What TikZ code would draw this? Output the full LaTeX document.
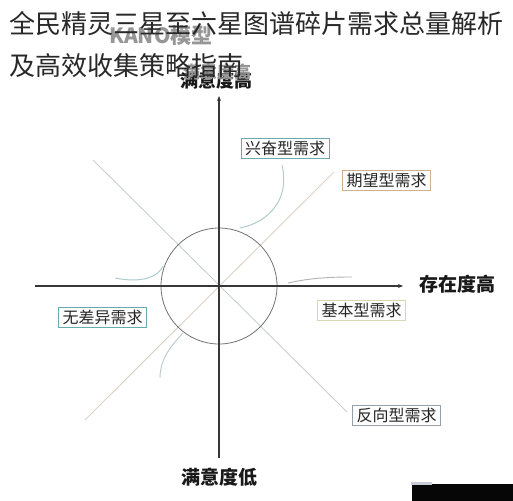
\documentclass[tikz,border=0pt]{standalone}
\usepackage{fontspec}
\newfontfamily\cjk{Noto Sans CJK SC}
\usetikzlibrary{arrows.meta}
\definecolor{axis}{RGB}{55,55,55}
\definecolor{tealb}{RGB}{105,170,175}
\definecolor{tanb}{RGB}{205,175,145}
\definecolor{oliveb}{RGB}{215,215,180}
\definecolor{grayb}{RGB}{150,160,170}
\definecolor{diagA}{RGB}{200,208,212}
\definecolor{diagB}{RGB}{222,210,195}
\definecolor{curveC}{RGB}{175,205,205}
\definecolor{ghost}{RGB}{150,150,150}
\definecolor{titlec}{RGB}{40,40,40}
\definecolor{sliver}{RGB}{200,205,215}
\definecolor{blockc}{RGB}{6,6,6}
\tikzset{
  tbox/.style={draw=#1, line width=1pt, fill=white, font=\cjk\fontsize{16}{16}\selectfont,
    minimum width=88pt, minimum height=20pt, inner sep=0pt, text=black!85},
  axlabel/.style={font=\cjk\bfseries\fontsize{19}{19}\selectfont, text=black!90, inner sep=0pt},
  axisline/.style={draw=axis, line width=1.3pt},
  diag/.style={line width=0.9pt},
  softcurve/.style={draw=curveC, line width=1pt},
  titletext/.style={font=\cjk\fontsize{26}{26}\selectfont, text=titlec, inner sep=0pt, anchor=base west},
}
\begin{document}
\begin{tikzpicture}[x=1pt,y=-1pt]
\useasboundingbox (0,0) rectangle (513,500);
\fill[white] (0,0) rectangle (513,500);

% diagonals
\coordinate (O) at (219,286);
\coordinate (DA1) at (93,160);
\coordinate (DA2) at (347,412);
\coordinate (DB1) at (85,420);
\coordinate (DB2) at (334,172);
\draw[diag, draw=diagA] (DA1) -- (DA2);
\draw[diag, draw=diagB] (DB1) -- (DB2);

% circle
\node[draw=black!55, line width=0.8pt, circle, minimum size=116pt, inner sep=0pt] (C) at (O) {};

% curves
\coordinate (c1a) at (240,228);
\coordinate (c1b) at (282,165);
\draw[softcurve] (c1a) .. controls (270,222) and (290,198) .. (c1b);
\coordinate (c2a) at (115,278);
\coordinate (c2b) at (163,266);
\draw[softcurve] (c2a) .. controls (140,283) and (158,278) .. (c2b);
\coordinate (c3a) at (288,283);
\coordinate (c3b) at (352,277);
\draw[draw=black!30, line width=0.9pt] (c3a) .. controls (310,278) and (330,277) .. (c3b);
\coordinate (c4a) at (183,333);
\coordinate (c4b) at (160,378);
\draw[draw=curveC!80!black!60, line width=0.9pt] (c4a) .. controls (172,345) and (160,358) .. (c4b);

% axes
\coordinate (xs) at (35,286);
\coordinate (xe) at (403,286);
\coordinate (ys) at (219,458);
\coordinate (ye) at (219,96);
\draw[axisline, -{Stealth[length=5pt,width=4pt]}] (xs) -- (xe);
\draw[axisline, -{Stealth[length=5pt,width=4pt]}] (ys) -- (ye);

% boxes
\node[tbox=tealb] (xf) at (285,148.5) {兴奋型需求};
\node[tbox=tanb] (qw) at (386.5,180) {期望型需求};
\node[tbox=oliveb] (jb) at (361.5,310) {基本型需求};
\node[tbox=tealb] (wc) at (102.5,317) {无差异需求};
\node[tbox=grayb] (fx) at (396.5,415) {反向型需求};

% axis labels
\node[axlabel] (right) at (457,284) {存在度高};
\node[axlabel] (bottom) at (219,477) {满意度低};
\node[axlabel, font=\cjk\bfseries\fontsize{18}{18}\selectfont] (top) at (216,81) {满意度高};
\node[font=\cjk\bfseries\fontsize{17}{17}\selectfont, text=ghost, inner sep=0pt] (topg) at (217,72) {满意度高};
\node[font=\cjk\bfseries\fontsize{21}{21}\selectfont, text=ghost, inner sep=0pt] (kano) at (161,36) {KANO模型};

% title
\node[titletext] (t1) at (9,34) {全民精灵三星至六星图谱碎片需求总量解析};
\node[titletext] (t2) at (9,76) {及高效收集策略指南};

% bottom-right block
\node[fill=blockc, draw=blockc, minimum width=101pt, minimum height=16pt, inner sep=0pt, anchor=north west] (blk) at (411.5,483.5) {};
\path[fill=sliver] (411,482) -- (432,482) -- (432,485) -- (411,485) -- cycle;
\end{tikzpicture}
\end{document}
